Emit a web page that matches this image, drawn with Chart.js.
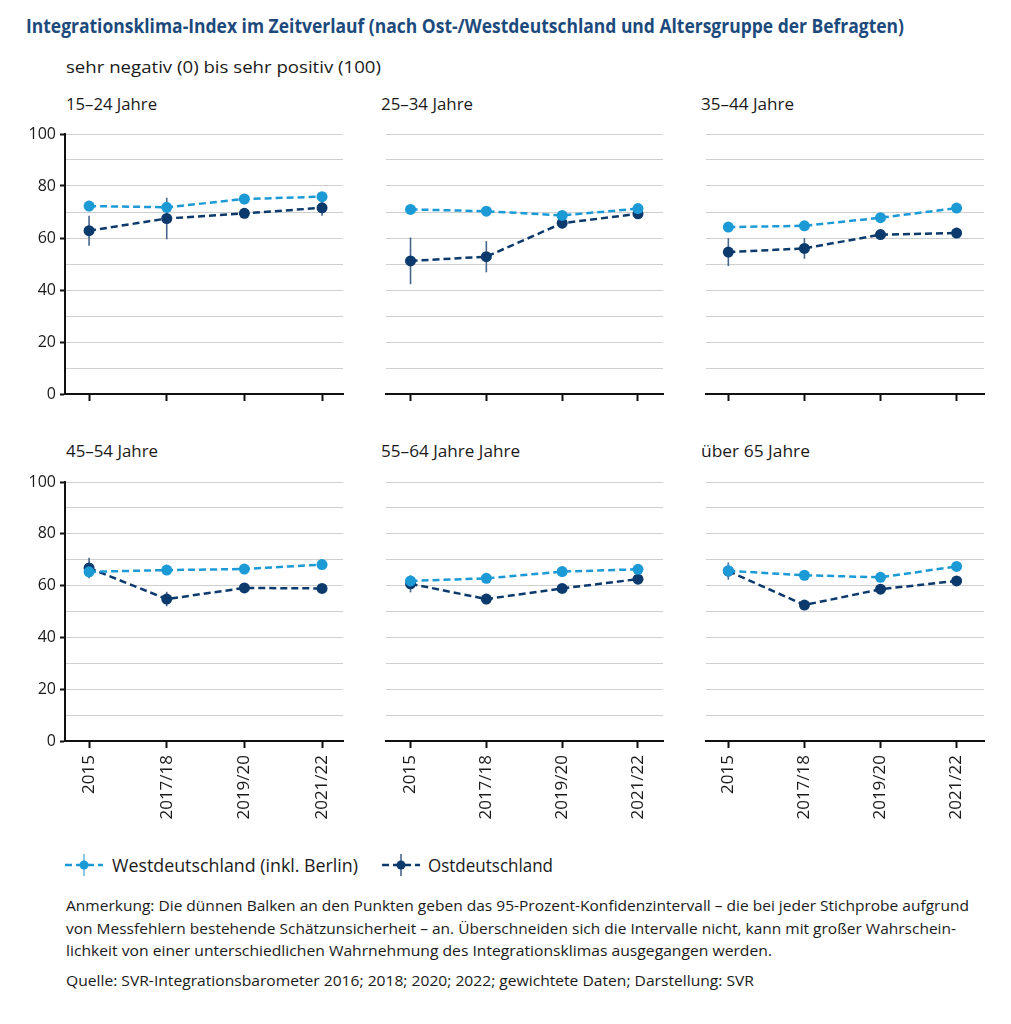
<!DOCTYPE html>
<html lang="de">
<head>
<meta charset="utf-8">
<script src="https://cdn.jsdelivr.net/npm/chart.js@4/dist/chart.umd.min.js"></script>
<style>
  html, body { margin: 0; padding: 0; background: #fff; }
  body { width: 1011px; height: 1024px; position: relative; overflow: hidden; font-family: "Open Sans", "Noto Sans", sans-serif; color: #1a1a1a; }
  .t { position: absolute; white-space: nowrap; line-height: 22px; height: 22px; }
  .t span { display: inline-block; transform-origin: 0 50%; }
  canvas { position: absolute; }
</style>
</head>
<body>
<script>
// ---------------- DATA ----------------
const categories = ['2015', '2017/18', '2019/20', '2021/22'];
const seriesNames = ['Westdeutschland (inkl. Berlin)', 'Ostdeutschland'];
const panelTitles = ['15–24 Jahre', '25–34 Jahre', '35–44 Jahre', '45–54 Jahre', '55–64 Jahre Jahre', 'über 65 Jahre'];
const yTickMin = 0, yTickMax = 100, yTickStep = 10, yLabelStep = 20;

// Index values (0 = sehr negativ, 100 = sehr positiv)
const west15_24 = [72.3, 71.8, 75.0, 75.9];
const east15_24 = [62.8, 67.5, 69.5, 71.6];
const west25_34 = [71.0, 70.3, 68.7, 71.3];
const east25_34 = [51.2, 52.8, 65.7, 69.3];
const west35_44 = [64.2, 64.7, 67.8, 71.5];
const east35_44 = [54.6, 56.0, 61.3, 61.9];
const west45_54 = [65.3, 66.0, 66.4, 68.1];
const east45_54 = [66.8, 54.8, 59.1, 58.9];
const west55_64 = [61.8, 62.8, 65.4, 66.3];
const east55_64 = [60.7, 54.8, 58.9, 62.5];
const westUeber65 = [65.7, 64.0, 63.2, 67.4];
const eastUeber65 = [65.6, 52.5, 58.6, 61.8];

// Half-width of the 95% confidence interval
const westCI15_24 = [2.0, 1.8, 1.5, 1.5];
const eastCI15_24 = [5.8, 8.0, 2.0, 3.0];
const westCI25_34 = [1.5, 1.5, 1.5, 1.5];
const eastCI25_34 = [9.0, 6.0, 2.0, 2.0];
const westCI35_44 = [1.5, 1.5, 1.5, 1.5];
const eastCI35_44 = [5.4, 4.0, 1.5, 1.5];
const westCI45_54 = [1.5, 1.5, 1.5, 1.5];
const eastCI45_54 = [4.0, 2.8, 1.5, 1.5];
const westCI55_64 = [1.5, 1.5, 1.5, 1.5];
const eastCI55_64 = [3.3, 2.0, 1.5, 1.5];
const westCIUeber65 = [2.5, 1.5, 1.5, 1.5];
const eastCIUeber65 = [3.3, 1.5, 1.5, 1.5];

const panelWest = [west15_24, west25_34, west35_44, west45_54, west55_64, westUeber65];
const panelEast = [east15_24, east25_34, east35_44, east45_54, east55_64, eastUeber65];
const panelWestCI = [westCI15_24, westCI25_34, westCI35_44, westCI45_54, westCI55_64, westCIUeber65];
const panelEastCI = [eastCI15_24, eastCI25_34, eastCI35_44, eastCI45_54, eastCI55_64, eastCIUeber65];

// ---------------- STYLE / LAYOUT ----------------
const WEST = '#1b9ad6';
const EAST = '#0c3a6c';
const WEST_CI = '#6fb9e3';
const EAST_CI = '#47668a';
const FONT = '"Open Sans", "Noto Sans", sans-serif';

const rows = [
  { areaTop: 134, areaBottom: 394, xH: 14, labels: false },
  { areaTop: 482, areaBottom: 741, xH: 100, labels: true }
];
const cols = [
  { areaLeft: 65, areaRight: 343, yW: 65, xMin: -0.31, xMax: 3.27, showY: true },
  { areaLeft: 380, areaRight: 663, yW: 0, xMin: -0.33, xMax: 3.33, showY: false },
  { areaLeft: 700, areaRight: 984, yW: 0, xMin: -0.30, xMax: 3.36, showY: false }
];

function addText(txt, left, cy, targetW, size, opts = {}) {
  const d = document.createElement('div');
  d.className = 't';
  d.style.left = left + 'px';
  d.style.top = (cy - 11) + 'px';
  d.style.fontSize = size + 'px';
  if (opts.bold) d.style.fontWeight = '700';
  if (opts.color) d.style.color = opts.color;
  const s = document.createElement('span');
  s.textContent = txt;
  d.appendChild(s);
  document.body.appendChild(d);
  if (targetW) {
    const w = s.getBoundingClientRect().width;
    if (w > 0) s.style.transform = 'scaleX(' + (targetW / w) + ')';
  }
}

// Titles
addText('Integrationsklima-Index im Zeitverlauf (nach Ost-/Westdeutschland und Altersgruppe der Befragten)', 26, 26, 878, 19, { bold: true, color: '#1c4a7c' });
addText('sehr negativ (0) bis sehr positiv (100)', 66, 67, 315, 17);
const titlePos = [[66, 104, 91], [381, 104, 92], [701, 104, 93], [66, 451, 92], [381, 451, 139], [701, 451, 109]];
panelTitles.forEach((t, i) => addText(t, titlePos[i][0], titlePos[i][1], titlePos[i][2], 17));

// Error bar plugin (uses the chart's own scales)
const errorBars = {
  id: 'errorBars',
  beforeDatasetsDraw(chart) {
    const ctx = chart.ctx, xs = chart.scales.x, ys = chart.scales.y;
    chart.data.datasets.slice().reverse().forEach(ds => {
      ctx.save();
      ctx.strokeStyle = ds.ciColor;
      ctx.lineWidth = 1.6;
      ds.data.forEach((p, i) => {
        const h = ds.ci[i];
        const x = xs.getPixelForValue(p.x);
        ctx.beginPath();
        ctx.moveTo(x, ys.getPixelForValue(p.y - h));
        ctx.lineTo(x, ys.getPixelForValue(p.y + h));
        ctx.stroke();
      });
      ctx.restore();
    });
  }
};

const PAD_T = 14, PAD_R = 10;

for (let p = 0; p < 6; p++) {
  const row = rows[Math.floor(p / 3)];
  const col = cols[p % 3];
  const left = col.areaLeft - col.yW;
  const top = row.areaTop - PAD_T;
  const width = col.areaRight - left + PAD_R;
  const height = row.areaBottom - top + row.xH;
  const cv = document.createElement('canvas');
  cv.width = width; cv.height = height;
  cv.style.left = left + 'px'; cv.style.top = top + 'px';
  cv.style.width = width + 'px'; cv.style.height = height + 'px';
  document.body.appendChild(cv);

  const mk = (vals) => vals.map((v, i) => ({ x: i, y: v }));

  new Chart(cv, {
    type: 'line',
    data: {
      datasets: [
        {
          label: seriesNames[0], data: mk(panelWest[p]), ci: panelWestCI[p], ciColor: WEST_CI,
          borderColor: WEST, backgroundColor: WEST, borderWidth: 2.5, borderDash: [7, 4],
          pointRadius: 5.5, pointBorderWidth: 0, pointBackgroundColor: WEST, tension: 0
        },
        {
          label: seriesNames[1], data: mk(panelEast[p]), ci: panelEastCI[p], ciColor: EAST_CI,
          borderColor: EAST, backgroundColor: EAST, borderWidth: 2.5, borderDash: [7, 4],
          pointRadius: 5.5, pointBorderWidth: 0, pointBackgroundColor: EAST, tension: 0
        }
      ]
    },
    options: {
      responsive: false,
      animation: false,
      devicePixelRatio: 1,
      layout: { padding: { top: PAD_T, right: PAD_R, left: 0, bottom: 0 } },
      plugins: { legend: { display: false }, tooltip: { enabled: false } },
      scales: {
        x: {
          type: 'linear',
          min: col.xMin, max: col.xMax,
          afterBuildTicks: (s) => { s.ticks = categories.map((c, i) => ({ value: i })); },
          afterFit: (s) => { s.height = row.xH; },
          grid: { drawOnChartArea: false, drawTicks: true, tickLength: 7, tickWidth: 2, tickColor: '#111' },
          border: { display: true, color: '#111', width: 2 },
          ticks: {
            autoSkip: false, maxRotation: 90, minRotation: 90, padding: 7,
            color: '#1a1a1a', font: { family: FONT, size: 17 },
            callback: (v) => row.labels ? categories[v] : ''
          }
        },
        y: {
          min: yTickMin, max: yTickMax,
          afterBuildTicks: (s) => {
            const t = [];
            for (let v = yTickMin; v <= yTickMax; v += yTickStep) t.push({ value: v });
            s.ticks = t;
          },
          afterFit: (s) => { s.width = col.yW; },
          grid: {
            drawTicks: col.showY, tickLength: 5, tickWidth: 2,
            tickColor: (c) => (c.tick && c.tick.value % yLabelStep === 0) ? '#111' : 'rgba(0,0,0,0)',
            color: (c) => (c.tick && c.tick.value === 0) ? 'rgba(0,0,0,0)' : '#cfcfcf',
            lineWidth: 1
          },
          border: { display: col.showY, color: '#111', width: 2 },
          ticks: {
            display: col.showY, padding: 4, color: '#1a1a1a', font: { family: FONT, size: 16 },
            callback: (v) => (v % yLabelStep === 0) ? String(v) : ''
          }
        }
      }
    },
    plugins: [errorBars]
  });
}

// Legend
(function () {
  const svgNS = 'http://www.w3.org/2000/svg';
  const svg = document.createElementNS(svgNS, 'svg');
  svg.setAttribute('width', '1011'); svg.setAttribute('height', '40');
  svg.style.position = 'absolute'; svg.style.left = '0px'; svg.style.top = '845px';
  const items = [[65, 103, WEST, WEST_CI], [382, 420, EAST, EAST_CI]];
  items.forEach(([x0, x1, c, cc]) => {
    const cx = (x0 + x1) / 2, cy = 20;
    const v = document.createElementNS(svgNS, 'line');
    v.setAttribute('x1', cx); v.setAttribute('x2', cx); v.setAttribute('y1', cy - 11); v.setAttribute('y2', cy + 11);
    v.setAttribute('stroke', cc); v.setAttribute('stroke-width', '1.6');
    svg.appendChild(v);
    const l = document.createElementNS(svgNS, 'line');
    l.setAttribute('x1', x0); l.setAttribute('x2', x1); l.setAttribute('y1', cy); l.setAttribute('y2', cy);
    l.setAttribute('stroke', c); l.setAttribute('stroke-width', '2.5'); l.setAttribute('stroke-dasharray', '7 4');
    svg.appendChild(l);
    const ci = document.createElementNS(svgNS, 'circle');
    ci.setAttribute('cx', cx); ci.setAttribute('cy', cy); ci.setAttribute('r', '4.5'); ci.setAttribute('fill', c);
    svg.appendChild(ci);
  });
  document.body.appendChild(svg);
  addText(seriesNames[0], 112, 865, 246, 18);
  addText(seriesNames[1], 428, 865, 125, 18);
})();

// Notes
addText('Anmerkung: Die dünnen Balken an den Punkten geben das 95-Prozent-Konfidenzintervall – die bei jeder Stichprobe aufgrund', 66, 905, 903, 15);
addText('von Messfehlern bestehende Schätzunsicherheit – an. Überschneiden sich die Intervalle nicht, kann mit großer Wahrschein-', 66, 928, 890, 15);
addText('lichkeit von einer unterschiedlichen Wahrnehmung des Integrationsklimas ausgegangen werden.', 66, 950, 706, 15);
addText('Quelle: SVR-Integrationsbarometer 2016; 2018; 2020; 2022; gewichtete Daten; Darstellung: SVR', 66, 980, 688, 15);
</script>
</body>
</html>
